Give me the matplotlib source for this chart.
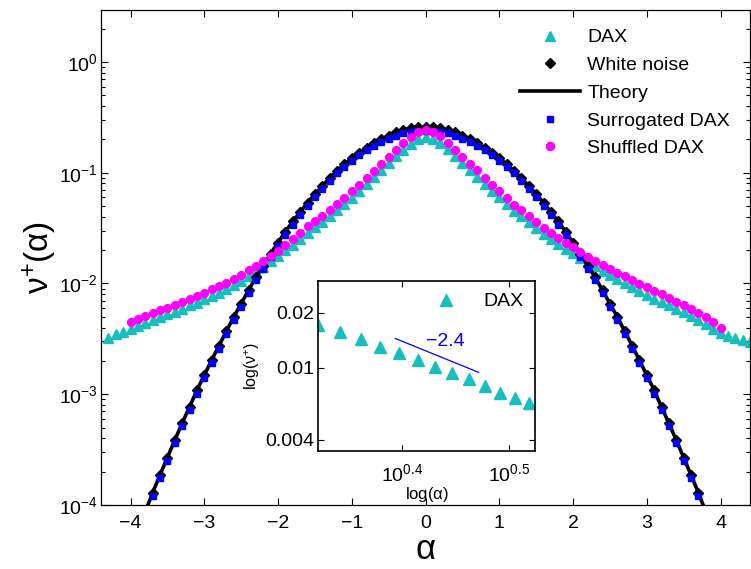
import numpy as np
import matplotlib
matplotlib.use("Agg")
import matplotlib.pyplot as plt
import matplotlib.ticker as mticker
from matplotlib.lines import Line2D

plt.rcParams["font.family"] = ["Liberation Sans", "DejaVu Sans"]
plt.rcParams["mathtext.fontset"] = "custom"
plt.rcParams["mathtext.rm"] = "Liberation Sans"
plt.rcParams["mathtext.it"] = "Liberation Sans:italic"

# ── Data (log10 of nu+) ───────────────────────────────────────────────────────
alpha_dax = [-4.3, -4.2, -4.1, -4.0, -3.9, -3.8, -3.7, -3.6, -3.5, -3.4, -3.3, -3.2,
             -3.1, -3.0, -2.9, -2.8, -2.7, -2.6, -2.5, -2.4, -2.3, -2.2, -2.1, -2.0,
             -1.9, -1.8, -1.7, -1.6, -1.5, -1.4, -1.3, -1.2, -1.1, -1.0, -0.9, -0.8,
             -0.7, -0.6, -0.5, -0.4, -0.3, -0.2, -0.1, 0.0, 0.1, 0.2, 0.3, 0.4,
             0.5, 0.6, 0.7, 0.8, 0.9, 1.0, 1.1, 1.2, 1.3, 1.4, 1.5, 1.6,
             1.7, 1.8, 1.9, 2.0, 2.1, 2.2, 2.3, 2.4, 2.5, 2.6, 2.7, 2.8,
             2.9, 3.0, 3.1, 3.2, 3.3, 3.4, 3.5, 3.6, 3.7, 3.8, 3.9, 4.0,
             4.1, 4.2, 4.3, 4.4]
dax_log = [-2.49, -2.46, -2.44, -2.41, -2.38, -2.355, -2.33, -2.305, -2.28, -2.255, -2.228, -2.198,
           -2.172, -2.144, -2.113, -2.083, -2.052, -2.015, -1.975, -1.935, -1.893, -1.85, -1.80, -1.75,
           -1.70, -1.65, -1.595, -1.542, -1.492, -1.443, -1.392, -1.338, -1.284, -1.224, -1.164, -1.102,
           -1.042, -0.976, -0.915, -0.852, -0.792, -0.740, -0.695, -0.679, -0.693, -0.733, -0.790, -0.850,
           -0.914, -0.975, -1.035, -1.103, -1.163, -1.223, -1.283, -1.343, -1.395, -1.448, -1.502, -1.552,
           -1.597, -1.642, -1.686, -1.726, -1.767, -1.803, -1.845, -1.886, -1.922, -1.959, -1.996, -2.032,
           -2.065, -2.102, -2.139, -2.169, -2.197, -2.228, -2.258, -2.292, -2.327, -2.362, -2.41, -2.45,
           -2.47, -2.49, -2.51, -2.53]

alpha_shuf = [-4.0, -3.9, -3.8, -3.7, -3.6, -3.5, -3.4, -3.3, -3.2, -3.1, -3.0, -2.9,
              -2.8, -2.7, -2.6, -2.5, -2.4, -2.3, -2.2, -2.1, -2.0, -1.9, -1.8, -1.7,
              -1.6, -1.5, -1.4, -1.3, -1.2, -1.1, -1.0, -0.9, -0.8, -0.7, -0.6, -0.5,
              -0.4, -0.3, -0.2, -0.1, 0.0, 0.1, 0.2, 0.3, 0.4, 0.5, 0.6, 0.7,
              0.8, 0.9, 1.0, 1.1, 1.2, 1.3, 1.4, 1.5, 1.6, 1.7, 1.8, 1.9,
              2.0, 2.1, 2.2, 2.3, 2.4, 2.5, 2.6, 2.7, 2.8, 2.9, 3.0, 3.1,
              3.2, 3.3, 3.4, 3.5, 3.6, 3.7, 3.8, 3.9, 4.0]
shuf_log = [-2.349, -2.318, -2.294, -2.270, -2.243, -2.219, -2.195, -2.168, -2.138, -2.114, -2.084, -2.054,
            -2.024, -1.994, -1.958, -1.919, -1.880, -1.838, -1.795, -1.750, -1.703, -1.655, -1.600, -1.540,
            -1.484, -1.435, -1.387, -1.336, -1.282, -1.228, -1.168, -1.108, -1.045, -0.985, -0.919, -0.859,
            -0.796, -0.733, -0.679, -0.631, -0.613, -0.631, -0.670, -0.732, -0.793, -0.859, -0.919, -0.979,
            -1.048, -1.108, -1.168, -1.228, -1.288, -1.340, -1.394, -1.448, -1.498, -1.543, -1.588, -1.633,
            -1.673, -1.718, -1.759, -1.799, -1.835, -1.868, -1.904, -1.934, -1.970, -2.003, -2.033, -2.069,
            -2.099, -2.135, -2.168, -2.198, -2.234, -2.270, -2.304, -2.349, -2.399]

alpha_wn = [-3.7, -3.6, -3.5, -3.4, -3.3, -3.2, -3.1, -3.0, -2.9, -2.8, -2.7, -2.6,
            -2.5, -2.4, -2.3, -2.2, -2.1, -2.0, -1.9, -1.8, -1.7, -1.6, -1.5, -1.4,
            -1.3, -1.2, -1.1, -1.0, -0.9, -0.8, -0.7, -0.6, -0.5, -0.4, -0.3, -0.2,
            -0.1, 0.0, 0.1, 0.2, 0.3, 0.4, 0.5, 0.6, 0.7, 0.8, 0.9, 1.0,
            1.1, 1.2, 1.3, 1.4, 1.5, 1.6, 1.7, 1.8, 1.9, 2.0, 2.1, 2.2,
            2.3, 2.4, 2.5, 2.6, 2.7, 2.8, 2.9, 3.0, 3.1, 3.2, 3.3, 3.4,
            3.5, 3.6, 3.7]
surr_log = [-3.92, -3.757, -3.601, -3.444, -3.291, -3.144, -2.994, -2.856, -2.721, -2.589, -2.459, -2.330,
            -2.210, -2.090, -1.973, -1.866, -1.759, -1.658, -1.559, -1.468, -1.383, -1.297, -1.219, -1.147,
            -1.075, -1.006, -0.948, -0.892, -0.844, -0.799, -0.758, -0.722, -0.692, -0.664, -0.643, -0.630,
            -0.621, -0.619, -0.621, -0.630, -0.643, -0.664, -0.692, -0.722, -0.758, -0.799, -0.844, -0.892,
            -0.948, -1.006, -1.075, -1.147, -1.219, -1.297, -1.383, -1.468, -1.559, -1.658, -1.759, -1.866,
            -1.973, -2.090, -2.210, -2.330, -2.459, -2.589, -2.721, -2.856, -2.994, -3.144, -3.291, -3.444,
            -3.601, -3.757, -3.92]
wn_log = [-3.89, -3.728, -3.572, -3.415, -3.262, -3.115, -2.965, -2.827, -2.692, -2.560, -2.430, -2.302,
          -2.182, -2.062, -1.945, -1.838, -1.731, -1.630, -1.531, -1.440, -1.355, -1.270, -1.192, -1.120,
          -1.048, -0.981, -0.923, -0.868, -0.820, -0.775, -0.733, -0.697, -0.665, -0.636, -0.614, -0.600,
          -0.591, -0.589, -0.591, -0.600, -0.614, -0.636, -0.665, -0.697, -0.733, -0.775, -0.820, -0.868,
          -0.923, -0.981, -1.048, -1.120, -1.192, -1.270, -1.355, -1.440, -1.531, -1.630, -1.731, -1.838,
          -1.945, -2.062, -2.182, -2.302, -2.430, -2.560, -2.692, -2.827, -2.965, -3.115, -3.262, -3.415,
          -3.572, -3.728, -3.89]

alpha_theory = [-3.8] + alpha_wn + [3.8]
theory_log = [-4.06] + wn_log + [-4.06]

# inset: DAX positive tail on log-log axes
alpha_inset = [2.1, 2.2, 2.3, 2.4, 2.5, 2.6, 2.7, 2.8, 2.9, 3.0, 3.1, 3.2, 3.3]
nu_inset = [0.01712, 0.01573, 0.01428, 0.01301, 0.01197, 0.01100, 0.01010,
            0.00929, 0.00861, 0.00791, 0.00727, 0.00677, 0.00636]
slope_x = [2.477, 2.961]
slope_y = [0.01446, 0.00941]
slope_label = "\u22122.4"

CYAN = "#16BEBE"
MAGENTA = "#FF00FF"
BLUE = "#0000FF"

# ── Figure ────────────────────────────────────────────────────────────────────
fig = plt.figure(figsize=(7.51, 5.69), dpi=100)
ax = fig.add_axes([0.1345, 0.1125, 0.8642, 0.870])

ax.plot(alpha_dax, 10 ** np.array(dax_log), "^", color=CYAN, ms=6.6, mec=CYAN,
        ls="none", zorder=2)
ax.plot(alpha_wn, 10 ** np.array(wn_log), "D", color="black", ms=5.5,
        ls="none", zorder=3)
ax.plot(alpha_theory, 10 ** np.array(theory_log), "-", color="black", lw=2.6,
        zorder=3)
ax.plot(alpha_wn, 10 ** np.array(surr_log), "s", color=BLUE, ms=4.6, mec=BLUE,
        ls="none", zorder=4)
ax.plot(alpha_shuf, 10 ** np.array(shuf_log), "o", color=MAGENTA, ms=5.6,
        mec=MAGENTA, ls="none", zorder=5)

ax.set_yscale("log")
ax.set_xlim(-4.4, 4.4)
ax.set_ylim(1e-4, 2.95)
ax.set_xticks([-4, -3, -2, -1, 0, 1, 2, 3, 4])
ax.xaxis.set_major_formatter(mticker.FuncFormatter(
    lambda v, _: f"{v:.0f}".replace("-", "\u2212")))
ax.set_yticks([1e-4, 1e-3, 1e-2, 1e-1, 1e0])
ax.yaxis.set_minor_locator(mticker.LogLocator(base=10, subs=np.arange(2, 10)))
ax.yaxis.set_minor_formatter(mticker.NullFormatter())
ax.tick_params(which="both", direction="in", top=True, right=True,
               labelsize=14, width=0.8)
ax.tick_params(which="major", length=5)
ax.tick_params(which="minor", length=3)
ax.tick_params(axis="x", pad=7)
ax.tick_params(axis="y", pad=2.5)
for s in ax.spines.values():
    s.set_linewidth(0.9)

ax.set_xlabel(r"$\mathregular{\alpha}$", fontsize=25, labelpad=1)
ax.set_ylabel(r"$\mathregular{\nu^{+}(\alpha)}$", fontsize=24, labelpad=0)

handles = [
    Line2D([], [], marker="^", color=CYAN, ls="none", ms=7),
    Line2D([], [], marker="D", color="black", ls="none", ms=5.5),
    Line2D([], [], color="black", lw=2.6),
    Line2D([], [], marker="s", color=BLUE, ls="none", ms=4.4),
    Line2D([], [], marker="o", color=MAGENTA, ls="none", ms=5.8),
]
labels = ["DAX", "White noise", "Theory", "Surrogated DAX", "Shuffled DAX"]
ax.legend(handles, labels, loc="upper left", frameon=False, fontsize=14,
          handlelength=3.1, handletextpad=0.36, labelspacing=0.52,
          borderpad=0, borderaxespad=0, bbox_to_anchor=(0.6456, 0.962))

# ── Inset ─────────────────────────────────────────────────────────────────────
ins = fig.add_axes([0.4234, 0.2079, 0.2889, 0.2982])
ins.plot(alpha_inset, nu_inset, "^", color=CYAN, ms=8.4, ls="none", label="DAX")
ins.plot(slope_x, slope_y, "-", color=BLUE, lw=0.9)
ins.text(2.757, 0.01386, slope_label, color=BLUE, fontsize=14,
         ha="center", va="center")
ins.set_xscale("log")
ins.set_yscale("log")
ins.set_xlim(2.10, 3.34)
ins.set_ylim(0.00349, 0.0299)
ins.xaxis.set_major_locator(mticker.FixedLocator([10 ** 0.4, 10 ** 0.5]))
ins.xaxis.set_major_formatter(mticker.FixedFormatter(
    [r"$\mathregular{10^{0.4}}$", r"$\mathregular{10^{0.5}}$"]))
ins.xaxis.set_minor_locator(mticker.NullLocator())
ins.yaxis.set_major_locator(mticker.FixedLocator([0.004, 0.01, 0.02]))
ins.yaxis.set_major_formatter(mticker.FixedFormatter(["0.004", "0.01", "0.02"]))
ins.yaxis.set_minor_locator(mticker.NullLocator())
ins.tick_params(which="both", direction="in", top=True, right=True,
                labelsize=14, length=4, width=0.8)
ins.tick_params(axis="x", pad=9)
ins.tick_params(axis="y", pad=3)
ins.set_xlabel(r"$\mathregular{log(\alpha)}$", fontsize=12, labelpad=0)
ins.set_ylabel(r"$\mathregular{log(\nu^{+})}$", fontsize=11.5, labelpad=2)
ins.legend(loc="upper right", frameon=False, fontsize=14, handletextpad=0.9,
           borderpad=0.4, borderaxespad=0.2)
for s in ins.spines.values():
    s.set_linewidth(1.2)

fig.savefig("out.png", dpi=100)
